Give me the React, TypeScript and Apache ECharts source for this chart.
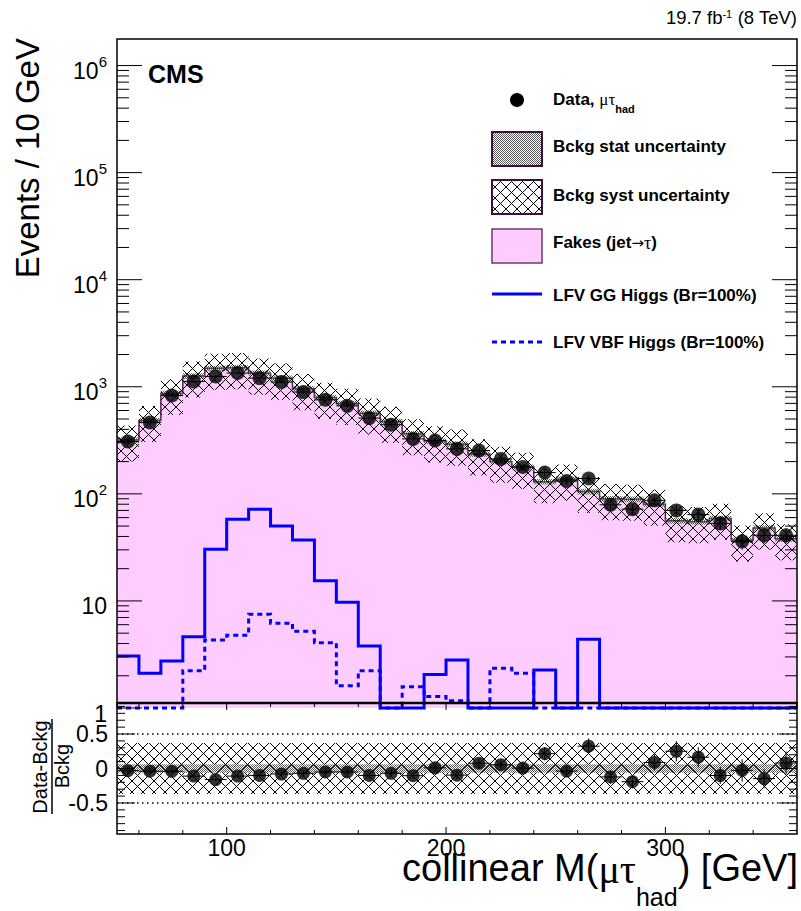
import React, { useEffect, useRef } from "react";
import * as echarts from "echarts";

// 10 GeV wide bins of the collinear mass, given by their centres (GeV)
const massBinCenters = [55, 65, 75, 85, 95, 105, 115, 125, 135, 145, 155, 165, 175, 185, 195, 205, 215, 225, 235, 245, 255, 265, 275, 285, 295, 305, 315, 325, 335, 345, 355];
const binHalfWidth = 5;

// Observed events per bin
const observedEvents = [308, 464, 829, 1121, 1248, 1343, 1205, 1107, 892, 756, 664, 510, 442, 326, 315, 263, 254, 212, 178, 158, 132, 139, 79, 72, 87, 70, 64, 53, 36, 41, 41];
// Fakes (jet -> tau) background prediction per bin
const fakesBackground = [318, 483, 864, 1260, 1486, 1509, 1339, 1203, 959, 796, 699, 567, 475, 364, 312, 291, 236, 201, 177, 130, 137, 105, 90, 89, 80, 56, 55, 59, 37, 48, 38];
// LFV Higgs signal templates (Br = 100%), 0 = empty bin
const lfvGGHiggs = [3.06, 2.11, 2.75, 4.64, 30.4, 58, 72, 50, 37, 15.4, 9.7, 3.8, 0, 0, 2.05, 2.81, 0, 0, 0, 2.27, 0, 4.39, 0, 0, 0, 0, 0, 0, 0, 0, 0];
const lfvVBFHiggs = [0, 0, 0, 2.23, 4.32, 4.78, 7.5, 6.2, 5.2, 4.07, 1.61, 2.23, 0, 1.58, 1.28, 1.17, 0, 2.35, 2.11, 0, 0, 0, 0, 0, 0, 0, 0, 0, 0, 0, 0];
// Relative background uncertainties
const bkgStatRelUnc = 0.06;
const bkgSystRelUnc = 0.37;

// Axis ranges and labelled ticks
const massRange = [50, 360];
const eventsRange = [1, 1.77e6];
const ratioRange = [-0.95, 0.95];
const massLabelTicks = [100, 200, 300];
const ratioLabelTicks = [-0.5, 0, 0.5];

const FONT = "'Liberation Sans', Arimo, Helvetica, Arial, sans-serif";
const GREEK = "'Liberation Serif', 'DejaVu Serif', serif";
const ARROW = "'DejaVu Sans', sans-serif";
const PINK = "#ffccff";
const FAKES_EDGE = "#5e1f50";
const LEGEND_EDGE = "#3f0f3a";
const BLUE = "#0000ff";

function hatchPattern() {
  const s = 11;
  const c = document.createElement("canvas");
  c.width = s;
  c.height = s;
  const g = c.getContext("2d")!;
  g.strokeStyle = "#000";
  g.lineWidth = 1;
  g.beginPath();
  g.moveTo(-2, -2);
  g.lineTo(s + 2, s + 2);
  g.moveTo(s + 2, -2);
  g.lineTo(-2, s + 2);
  g.stroke();
  return { image: c, repeat: "repeat", imageWidth: s, imageHeight: s };
}

function stipplePattern() {
  const c = document.createElement("canvas");
  c.width = 2;
  c.height = 2;
  const g = c.getContext("2d")!;
  g.fillStyle = "#5a5a5a";
  g.fillRect(0, 0, 1, 1);
  g.fillRect(1, 1, 1, 1);
  return { image: c, repeat: "repeat", imageWidth: 2, imageHeight: 2 };
}

function buildOption() {
  const hatch = hatchPattern();
  const stipple = stipplePattern();
  const [xMin, xMax] = massRange;
  const [yMin, yMax] = eventsRange;
  const [rMin, rMax] = ratioRange;
  const lows = massBinCenters.map((c) => c - binHalfWidth);
  const highs = massBinCenters.map((c) => c + binHalfWidth);
  const clampY = (v: number) => Math.max(v, yMin);
  const ratio = observedEvents.map((d, i) => d / fakesBackground[i] - 1);
  const ratioErr = observedEvents.map((d, i) => Math.sqrt(d) / fakesBackground[i]);

  const stepPoints = (api: any, vals: number[]) => {
    const pts: number[][] = [];
    vals.forEach((v, i) => {
      pts.push(api.coord([lows[i], clampY(v)]), api.coord([highs[i], clampY(v)]));
    });
    return pts;
  };
  const bandPoints = (api: any, lo: number[], hi: number[]) => {
    const top = stepPoints(api, hi);
    const bot = stepPoints(api, lo).reverse();
    return top.concat(bot);
  };
  const seg = (a: number[], b: number[], style: any) => ({
    type: "line",
    shape: { x1: a[0], y1: a[1], x2: b[0], y2: b[1] },
    style,
  });
  const custom = (grid: number, z: number, render: (api: any) => any) => ({
    type: "custom",
    coordinateSystem: "cartesian2d",
    xAxisIndex: grid,
    yAxisIndex: grid,
    silent: true,
    z,
    data: [[200, grid === 0 ? 10 : 0]],
    renderItem: (_p: any, api: any) => render(api),
  });

  const black1 = { stroke: "#000", lineWidth: 1 };

  const series: any[] = [
    // fakes histogram fill
    custom(0, 1, (api) => ({
      type: "polygon",
      shape: {
        points: [api.coord([xMin, yMin]), ...stepPoints(api, fakesBackground), api.coord([xMax, yMin])],
      },
      style: { fill: PINK },
    })),
    // fakes outline
    custom(0, 2, (api) => ({
      type: "polyline",
      shape: { points: stepPoints(api, fakesBackground) },
      style: { fill: "none", stroke: FAKES_EDGE, lineWidth: 1.5 },
    })),
    // stat band
    custom(0, 3, (api) => ({
      type: "polygon",
      shape: {
        points: bandPoints(
          api,
          fakesBackground.map((b) => b * (1 - bkgStatRelUnc)),
          fakesBackground.map((b) => b * (1 + bkgStatRelUnc))
        ),
      },
      style: { fill: stipple },
    })),
    // syst band
    custom(0, 4, (api) => ({
      type: "polygon",
      shape: {
        points: bandPoints(
          api,
          fakesBackground.map((b) => b * (1 - bkgSystRelUnc)),
          fakesBackground.map((b) => b * (1 + bkgSystRelUnc))
        ),
      },
      style: { fill: hatch },
    })),
    // signal templates
    custom(0, 5, (api) => ({
      type: "polyline",
      shape: { points: stepPoints(api, lfvVBFHiggs) },
      style: { fill: "none", stroke: BLUE, lineWidth: 3, lineDash: [5, 4] },
    })),
    custom(0, 5, (api) => ({
      type: "polyline",
      shape: { points: stepPoints(api, lfvGGHiggs) },
      style: { fill: "none", stroke: BLUE, lineWidth: 3 },
    })),
    // data error bars
    custom(0, 6, (api) => ({
      type: "group",
      children: observedEvents.flatMap((d, i) => {
        const e = Math.sqrt(d);
        return [
          seg(api.coord([lows[i], d]), api.coord([highs[i], d]), black1),
          seg(api.coord([massBinCenters[i], d - e]), api.coord([massBinCenters[i], d + e]), black1),
        ];
      }),
    })),
    {
      type: "scatter",
      xAxisIndex: 0,
      yAxisIndex: 0,
      silent: true,
      z: 7,
      symbol: "circle",
      symbolSize: 14,
      itemStyle: { color: "#000" },
      data: massBinCenters.map((c, i) => [c, observedEvents[i]]),
    },
    // main panel ticks
    custom(0, 8, (api) => {
      const children: any[] = [];
      const left = api.coord([xMin, yMin])[0];
      const right = api.coord([xMax, yMin])[0];
      for (let d = 0; d <= 6; d++) {
        for (let k = 1; k <= 9; k++) {
          const v = k * Math.pow(10, d);
          if (v > yMax) break;
          const y = api.coord([xMin, v])[1];
          const len = k === 1 ? 25 : 12;
          children.push(seg([left, y], [left + len, y], black1));
          children.push(seg([right - len, y], [right, y], black1));
        }
      }
      return { type: "group", children };
    }),
    // main panel frame
    custom(0, 9, (api) => ({
      type: "polyline",
      shape: {
        points: [api.coord([xMin, yMin]), api.coord([xMin, yMax]), api.coord([xMax, yMax]), api.coord([xMax, yMin])],
      },
      style: { fill: "none", stroke: "#000", lineWidth: 1.5 },
    })),

    // ratio panel: syst band
    custom(1, 1, (api) => {
      const a = api.coord([xMin, bkgSystRelUnc]);
      const b = api.coord([xMax, -bkgSystRelUnc]);
      return { type: "rect", shape: { x: a[0], y: a[1], width: b[0] - a[0], height: b[1] - a[1] }, style: { fill: hatch } };
    }),
    custom(1, 2, (api) => {
      const a = api.coord([xMin, bkgStatRelUnc]);
      const b = api.coord([xMax, -bkgStatRelUnc]);
      return { type: "rect", shape: { x: a[0], y: a[1], width: b[0] - a[0], height: b[1] - a[1] }, style: { fill: stipple } };
    }),
    // dotted reference lines
    custom(1, 3, (api) => ({
      type: "group",
      children: [0.5, -0.5].map((r) =>
        seg(api.coord([xMin, r]), api.coord([xMax, r]), { stroke: "#000", lineWidth: 1.5, lineDash: [1.5, 3.5] })
      ),
    })),
    custom(1, 6, (api) => ({
      type: "group",
      children: ratio.flatMap((r, i) => [
        seg(api.coord([lows[i], r]), api.coord([highs[i], r]), black1),
        seg(api.coord([massBinCenters[i], r - ratioErr[i]]), api.coord([massBinCenters[i], r + ratioErr[i]]), black1),
      ]),
    })),
    {
      type: "scatter",
      xAxisIndex: 1,
      yAxisIndex: 1,
      silent: true,
      z: 7,
      symbol: "circle",
      symbolSize: 13,
      itemStyle: { color: "#000" },
      data: massBinCenters.map((c, i) => [c, ratio[i]]),
    },
    // ratio ticks
    custom(1, 8, (api) => {
      const children: any[] = [];
      const left = api.coord([xMin, 0])[0];
      const right = api.coord([xMax, 0])[0];
      for (let k = -9; k <= 9; k++) {
        const y = api.coord([xMin, k / 10])[1];
        const len = k % 5 === 0 ? 18 : 8;
        children.push(seg([left, y], [left + len, y], black1));
        children.push(seg([right - len, y], [right, y], black1));
      }
      const top = api.coord([xMin, rMax])[1];
      const bottom = api.coord([xMin, rMin])[1];
      for (let m = 60; m < xMax; m += 20) {
        const x = api.coord([m, 0])[0];
        const len = m % 100 === 0 ? 7 : 4;
        children.push(seg([x, top], [x, top + len], black1));
        children.push(seg([x, bottom - len], [x, bottom], black1));
      }
      return { type: "group", children };
    }),
    // ratio frame
    custom(1, 9, (api) => {
      const a = api.coord([xMin, rMax]);
      const b = api.coord([xMax, rMin]);
      return {
        type: "group",
        children: [
          { type: "rect", shape: { x: a[0], y: a[1], width: b[0] - a[0], height: b[1] - a[1] }, style: { fill: "none", stroke: "#000", lineWidth: 1.5 } },
          seg([a[0], a[1]], [b[0], a[1]], { stroke: "#000", lineWidth: 2.5 }),
        ],
      };
    }),
  ];

  const isPow10 = (v: number) => {
    const l = Math.log10(v);
    return Math.abs(l - Math.round(l)) < 1e-6;
  };

  const legendText = (y: number, text: string) => ({
    type: "text",
    x: 553,
    y,
    style: { text, font: `bold 17px ${FONT}`, fill: "#000", textAlign: "left", textVerticalAlign: "middle" },
  });

  const graphic: any[] = [
    // axis titles
    {
      type: "text",
      x: 27,
      y: 38,
      rotation: Math.PI / 2,
      style: { text: "Events / 10 GeV", font: `33px ${FONT}`, fill: "#000", textAlign: "right", textVerticalAlign: "middle" },
    },
    {
      type: "text",
      x: 40,
      y: 767,
      rotation: Math.PI / 2,
      style: { text: "Data-Bckg", font: `20px ${FONT}`, fill: "#000", textAlign: "center", textVerticalAlign: "middle" },
    },
    { type: "line", shape: { x1: 52, y1: 719, x2: 52, y2: 814 }, style: { stroke: "#000", lineWidth: 1.5 } },
    {
      type: "text",
      x: 62,
      y: 766,
      rotation: Math.PI / 2,
      style: { text: "Bckg", font: `20px ${FONT}`, fill: "#000", textAlign: "center", textVerticalAlign: "middle" },
    },
    {
      type: "text",
      x: 798,
      y: 849,
      style: {
        text: "{m|collinear M(}{g|μτ}{s|had}{m|) [GeV]}",
        fill: "#000",
        textAlign: "right",
        textVerticalAlign: "top",
        rich: {
          m: { fontSize: 38, fontFamily: FONT, lineHeight: 60, verticalAlign: "top", fill: "#000" },
          g: { fontSize: 40, fontFamily: GREEK, lineHeight: 60, verticalAlign: "top", fill: "#000" },
          s: { fontSize: 25, fontFamily: FONT, lineHeight: 60, verticalAlign: "top", padding: [35, 0, 0, 0], fill: "#000" },
        },
      },
    },
    // header texts
    {
      type: "text",
      x: 797,
      y: 8,
      style: {
        text: "{n|19.7 fb}{p|-1}{n| (8 TeV)}",
        fill: "#000",
        textAlign: "right",
        textVerticalAlign: "top",
        rich: {
          n: { fontSize: 18.5, fontFamily: FONT, lineHeight: 22, verticalAlign: "top", fill: "#000" },
          p: { fontSize: 11, fontFamily: FONT, lineHeight: 22, verticalAlign: "top", fill: "#000" },
        },
      },
    },
    {
      type: "text",
      x: 148,
      y: 74,
      style: { text: "CMS", font: `bold 25px ${FONT}`, fill: "#000", textAlign: "left", textVerticalAlign: "middle" },
    },
    // legend
    { type: "circle", shape: { cx: 517, cy: 100, r: 7 }, style: { fill: "#000" } },
    {
      type: "text",
      x: 553,
      y: 91,
      style: {
        text: "{b|Data, }{g|μτ}{s|had}",
        fill: "#000",
        textAlign: "left",
        textVerticalAlign: "top",
        rich: {
          b: { fontSize: 17, fontWeight: "bold", fontFamily: FONT, lineHeight: 26, verticalAlign: "top", fill: "#000" },
          g: { fontSize: 17, fontFamily: GREEK, lineHeight: 26, verticalAlign: "top", fill: "#000" },
          s: { fontSize: 11, fontWeight: "bold", fontFamily: FONT, lineHeight: 26, verticalAlign: "top", padding: [12, 0, 0, 0], fill: "#000" },
        },
      },
    },
    { type: "rect", shape: { x: 492, y: 132, width: 50, height: 34 }, style: { fill: stipple, stroke: LEGEND_EDGE, lineWidth: 2 } },
    legendText(146, "Bckg stat uncertainty"),
    { type: "rect", shape: { x: 492, y: 180, width: 50, height: 34 }, style: { fill: hatch, stroke: LEGEND_EDGE, lineWidth: 2 } },
    legendText(195, "Bckg syst uncertainty"),
    { type: "rect", shape: { x: 492, y: 229, width: 50, height: 34 }, style: { fill: PINK, stroke: "#6d3a6d", lineWidth: 1.5 } },
    {
      type: "text",
      x: 553,
      y: 234,
      style: {
        text: "{b|Fakes (jet}{a|→}{g|τ}{b|)}",
        fill: "#000",
        textAlign: "left",
        textVerticalAlign: "top",
        rich: {
          b: { fontSize: 17, fontWeight: "bold", fontFamily: FONT, lineHeight: 18, verticalAlign: "top", fill: "#000" },
          a: { fontSize: 15, fontFamily: ARROW, lineHeight: 18, verticalAlign: "top", padding: [1, 0, 0, 0], fill: "#000" },
          g: { fontSize: 18, fontFamily: GREEK, lineHeight: 18, verticalAlign: "top", fill: "#000" },
        },
      },
    },
    { type: "line", shape: { x1: 492, y1: 294, x2: 542, y2: 294 }, style: { stroke: BLUE, lineWidth: 3 } },
    legendText(295, "LFV GG Higgs (Br=100%)"),
    { type: "line", shape: { x1: 492, y1: 342, x2: 542, y2: 342 }, style: { stroke: BLUE, lineWidth: 3, lineDash: [5, 4] } },
    legendText(342, "LFV VBF Higgs (Br=100%)"),
  ];

  const hiddenAxisParts = {
    axisLine: { show: false },
    axisTick: { show: false },
    splitLine: { show: false },
    minorTick: { show: false },
    minorSplitLine: { show: false },
  };

  return {
    animation: false,
    backgroundColor: "#fff",
    grid: [
      { left: 117, top: 39, width: 680, height: 669 },
      { left: 117, top: 703, width: 680, height: 131 },
    ],
    xAxis: [
      { type: "value", gridIndex: 0, min: xMin, max: xMax, show: false },
      {
        type: "value",
        gridIndex: 1,
        min: xMin,
        max: xMax,
        interval: 50,
        ...hiddenAxisParts,
        axisLabel: {
          margin: 2,
          fontSize: 23,
          fontFamily: FONT,
          color: "#000",
          lineHeight: 23,
          showMinLabel: false,
          showMaxLabel: false,
          formatter: (v: number) => (massLabelTicks.includes(Math.round(v)) && Math.abs(v - Math.round(v)) < 1e-6 ? String(Math.round(v)) : ""),
        },
      },
    ],
    yAxis: [
      {
        type: "log",
        logBase: 10,
        gridIndex: 0,
        min: yMin,
        max: yMax,
        splitNumber: 6,
        ...hiddenAxisParts,
        axisLabel: {
          margin: 10,
          showMinLabel: true,
          formatter: (v: number) => {
            if (!isPow10(v)) return "";
            const e = Math.round(Math.log10(v));
            if (e === 0) return "{b|1}";
            if (e === 1) return "{b|10}";
            return `{b|10}{s|${e}}`;
          },
          rich: {
            b: { fontSize: 23, fontFamily: FONT, color: "#000", lineHeight: 34, verticalAlign: "top", padding: [11, 0, 0, 0] },
            s: { fontSize: 15, fontFamily: FONT, color: "#000", lineHeight: 15, verticalAlign: "top", padding: [5, 0, 0, 0] },
          },
        },
      },
      {
        type: "value",
        gridIndex: 1,
        min: rMin,
        max: rMax,
        interval: 0.05,
        ...hiddenAxisParts,
        axisLabel: {
          margin: 9,
          fontSize: 23,
          fontFamily: FONT,
          color: "#000",
          showMinLabel: false,
          showMaxLabel: false,
          formatter: (v: number) => {
            const hit = ratioLabelTicks.find((t) => Math.abs(t - v) < 1e-6);
            return hit === undefined ? "" : String(hit);
          },
        },
      },
    ],
    graphic,
    series,
  };
}

export default function App() {
  const ref = useRef<HTMLDivElement>(null);
  useEffect(() => {
    document.body.style.margin = "0";
    const chart = echarts.init(ref.current!, undefined, { renderer: "svg" });
    chart.setOption(buildOption() as any);
    return () => chart.dispose();
  }, []);
  return <div ref={ref} style={{ width: 801, height: 911 }} />;
}
